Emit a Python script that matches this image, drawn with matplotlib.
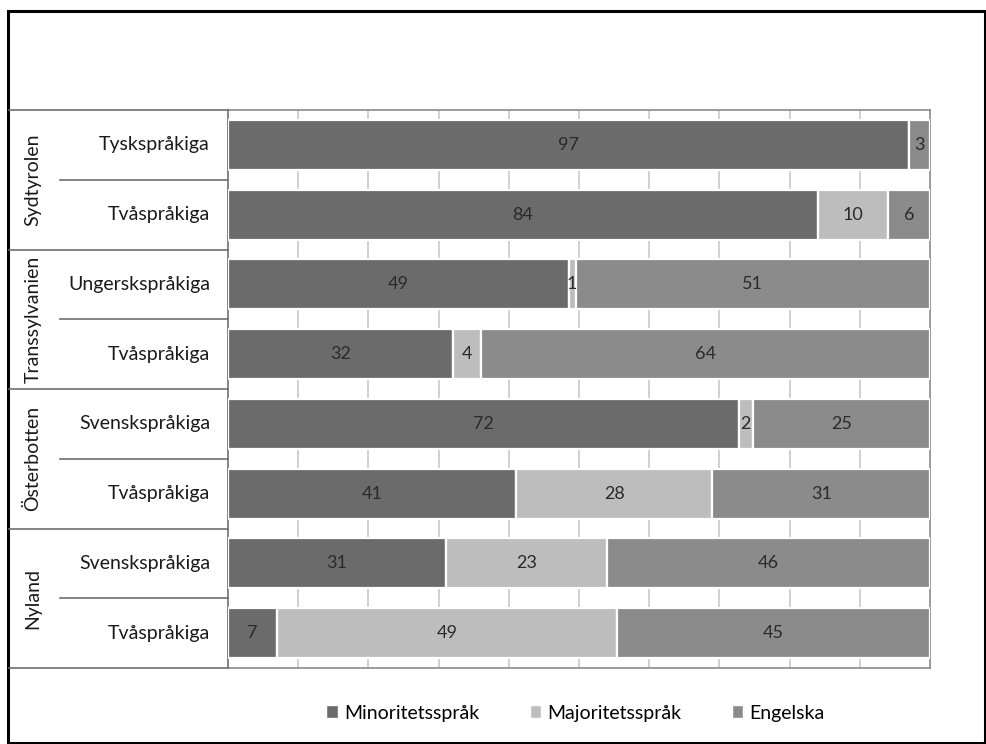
import matplotlib
matplotlib.use("Agg")
import matplotlib.pyplot as plt
from matplotlib.patches import Patch, Rectangle
from matplotlib.lines import Line2D
import numpy as np

plt.rcParams['font.family'] = ['Lato', 'DejaVu Sans']

regions = ["Sydtyrolen", "Transsylvanien", "Österbotten", "Nyland"]
groups = ["Tyskspråkiga", "Tvåspråkiga",
          "Ungerskspråkiga", "Tvåspråkiga",
          "Svenskspråkiga", "Tvåspråkiga",
          "Svenskspråkiga", "Tvåspråkiga"]
series = ["Minoritetsspråk", "Majoritetsspråk", "Engelska"]
minority = [97, 84, 49, 32, 72, 41, 31, 7]
majority = [0, 10, 1, 4, 2, 28, 23, 49]
english = [3, 6, 51, 64, 25, 31, 46, 45]
colors = ["#6b6b6b", "#bdbdbd", "#8b8b8b"]

W, H = 987, 744
fig = plt.figure(figsize=(W / 100, H / 100), dpi=100)

# plot area in pixel coordinates
x0, x1 = 228, 930
y_top, y_bot = 110, 668
ax = fig.add_axes([x0 / W, 1 - y_bot / H, (x1 - x0) / W, (y_bot - y_top) / H])

values = np.array([minority, majority, english], dtype=float)
totals = values.sum(axis=0)
shares = values / totals

n = len(groups)
ypos = np.arange(n)
left = np.zeros(n)
for k in range(3):
    ax.barh(ypos, shares[k], left=left, height=0.72, color=colors[k],
            edgecolor="white", linewidth=1.6, zorder=3)
    for i in range(n):
        if values[k, i] > 0:
            ax.text(left[i] + shares[k, i] / 2, ypos[i], f"{int(values[k, i])}",
                    ha="center", va="center", fontsize=13, color="#2a2a2a",
                    zorder=4)
    left += shares[k]

ax.set_xlim(0, 1)
ax.set_ylim(n - 0.5, -0.5)
ax.set_xticks(np.arange(0.1, 1.0, 0.1))
ax.set_xticklabels([])
ax.tick_params(axis="x", length=0)
ax.set_yticks([])
ax.grid(axis="x", color="#c8c8c8", linewidth=1.2, zorder=0)
for s in ["top", "right", "bottom"]:
    ax.spines[s].set_color("#8a8a8a")
    ax.spines[s].set_linewidth(1.2)
ax.spines["left"].set_color("#6e6e6e")
ax.spines["left"].set_linewidth(1.2)

# category table on the left, drawn in pixel coordinates
row_h = (y_bot - y_top) / n
tx0 = 9


def fy(y):
    return 1 - y / H


def fx(x):
    return x / W


line_kw = dict(color="#6e6e6e", linewidth=1.2, transform=fig.transFigure)
for r in range(0, n + 1, 2):
    y = y_top + r * row_h
    fig.add_artist(Line2D([fx(tx0), fx(x0)], [fy(y), fy(y)], **line_kw))
for r in range(1, n, 2):
    y = y_top + r * row_h
    fig.add_artist(Line2D([fx(60), fx(x0)], [fy(y), fy(y)], **line_kw))

for i, g in enumerate(groups):
    yc = y_top + (i + 0.5) * row_h
    fig.text(fx(210), fy(yc), g, ha="right", va="center", fontsize=14,
             color="#1a1a1a")
for j, reg in enumerate(regions):
    yc = y_top + (2 * j + 1) * row_h
    fig.text(fx(33), fy(yc), reg, ha="center", va="center", rotation=90,
             fontsize=14, color="#1a1a1a")

# outer frame
fig.add_artist(Rectangle((fx(8), 0.002), 1 - fx(8) - 0.002, fy(11) - 0.002,
                         transform=fig.transFigure, fill=False,
                         edgecolor="black", linewidth=2.2))

handles = [Patch(facecolor=c, edgecolor="white") for c in colors]
fig.legend(handles, series, loc="center", bbox_to_anchor=(0.583, fy(713)),
           ncol=3, frameon=False, fontsize=14, handlelength=0.6,
           handleheight=0.6, handletextpad=0.3, columnspacing=2.6)

fig.savefig("out.png", dpi=100)
